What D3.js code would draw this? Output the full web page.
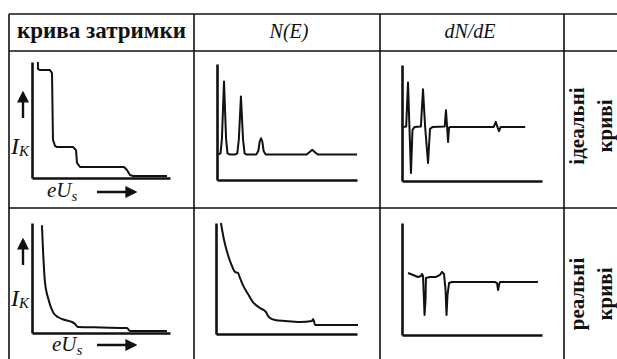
<!DOCTYPE html>
<html><head><meta charset="utf-8">
<script src="https://cdn.jsdelivr.net/npm/d3@7"></script>
<style>
html,body{margin:0;padding:0;background:#fff;}
svg{display:block;}
</style></head>
<body>
<svg id="c" width="617" height="359"></svg>
<script>
// ---------- data ----------
const headers = ["крива затримки", "N(E)", "dN/dE"];
const rowLabels = [["ідеальні", "криві"], ["реальні", "криві"]];
const yAxisLabel = ["I", "K"];
const xAxisLabel = ["eU", "s"];

// retarding (delay) curve, ideal: [energy, current]
const delayIdeal = [[4.3,100],[4.3,94],[5.8,93],[13,93],[14.5,90.5],[15.2,33],[16.7,27.6],[18.1,26.7],[29.7,26.7],[31.9,24],[32.6,13],[34.8,9.5],[66.7,9.5],[68.8,6.9],[71,2.6],[73.2,1.7],[97.8,1.7]];
// retarding curve, real
const delayReal = [[7.2,98],[8,75],[9.4,46],[11.6,32],[15.2,19],[18.8,14.5],[23.9,11.8],[29,10],[31.2,8.2],[33.3,5.5],[50,5],[68.8,4.5],[71,1.8],[97.8,1.8]];
// N(E), ideal
const nIdeal = [[1,22],[2.5,23],[3.5,35],[5,85],[6.5,35],[7.5,23],[9,22],[13,22],[14.5,23],[15.6,35],[17.1,72],[18.6,35],[19.7,23],[21,22],[28,22],[29.5,25],[30.5,33],[31.4,36],[32.4,33],[33.3,25],[34.8,22],[64,22],[66,24],[68,26],[70,24],[72,22],[100,22]];
// N(E), real
const nReal = [[3.5,100],[5.7,84.7],[8.5,71.2],[11.3,61.3],[13.5,55.9],[15.6,55],[17,50.5],[19.1,44.1],[22.7,36],[26.2,28.8],[31.2,23.4],[35.5,19.8],[36.9,16.2],[38.3,14.4],[41.8,12.6],[48.9,11.7],[59.6,10.8],[68.1,11.7],[68.8,13.5],[69.5,11.7],[70.2,8.1],[80.9,8.1],[100.7,8.1]];
// dN/dE, ideal
const dIdeal = [[1,46.6],[3,47],[4.3,85],[5.3,47],[6.4,7],[7.5,44],[9,46.6],[13.5,47],[15,79],[16.5,47],[18.6,15.5],[20,45],[22,46.6],[30.5,47],[31.4,61],[32.2,47],[32.9,33.6],[33.6,46],[34.5,46.6],[65.5,46.6],[67,51],[68,47],[69.3,43],[70.5,46.6],[88,46.6]];
// dN/dE, real
const dReal = [[4.3,55.4],[7.9,53.6],[11.4,51.8],[13.6,52.7],[14.3,54.5],[15,52.7],[15.7,31.3],[16.1,17.9],[16.8,31.3],[17.1,50.9],[20,51.8],[24.3,51.8],[27.1,53.6],[28.6,56.3],[30,54.5],[31.1,40.2],[31.8,17.9],[32.5,35.7],[33.6,46.4],[35.7,47.3],[66.4,47.3],[67.9,46.4],[68.6,40.2],[69.3,44.6],[70,47.3],[97.1,47.3]];

// ---------- layout ----------
const svg = d3.select("#c");
const ink = "#111";
const serif = "'Liberation Serif','Times New Roman',serif";

const colX = [9, 194, 380, 564];
const rowY = [14, 51, 208];

// table lines
const g = svg.append("g").attr("stroke", ink).attr("stroke-width", 1.6);
rowY.forEach(y => g.append("line").attr("x1", colX[0]).attr("x2", 617).attr("y1", y).attr("y2", y));
colX.forEach(x => g.append("line").attr("x1", x).attr("x2", x).attr("y1", rowY[0]).attr("y2", 359));

// headers
svg.append("text").attr("x", (colX[0] + colX[1]) / 2).attr("y", 38)
  .attr("text-anchor", "middle").attr("font-family", serif).attr("font-weight", "bold")
  .attr("font-size", 23).attr("fill", ink).text(headers[0]);
[1, 2].forEach(i => svg.append("text").attr("x", i === 1 ? 289 : 470).attr("y", 38)
  .attr("text-anchor", "middle").attr("font-family", serif).attr("font-style", "italic")
  .attr("font-size", 20).attr("fill", ink).text(headers[i]));

// row labels (rotated)
[[126, 0], [294, 1]].forEach(([cy, r]) => {
  [[577, 0], [605, 1]].forEach(([cx, k]) => {
    svg.append("text").attr("transform", `translate(${cx},${cy}) rotate(-90)`)
      .attr("text-anchor", "middle").attr("dominant-baseline", "central")
      .attr("font-family", serif).attr("font-weight", "bold").attr("font-size", 21)
      .attr("fill", ink).text(rowLabels[r][k]);
  });
});

// panels
const panels = [
  {data: delayIdeal, x0: 32, x1: 170, yb: 178, yt: 62, curve: d3.curveLinear},
  {data: nIdeal,     x0: 217, x1: 357, yb: 180, yt: 64, curve: d3.curveLinear},
  {data: dIdeal,     x0: 402, x1: 542, yb: 181, yt: 65, curve: d3.curveLinear},
  {data: delayReal,  x0: 32, x1: 170, yb: 333, yt: 223, curve: d3.curveMonotoneX},
  {data: nReal,      x0: 216, x1: 357, yb: 334, yt: 223, curve: d3.curveMonotoneX},
  {data: dReal,      x0: 402, x1: 542, yb: 335, yt: 223, curve: d3.curveLinear}
];

panels.forEach(p => {
  const x = d3.scaleLinear().domain([0, 100]).range([p.x0, p.x1]);
  const y = d3.scaleLinear().domain([0, 100]).range([p.yb, p.yt]);
  const pg = svg.append("g");
  const xa = pg.append("g").attr("transform", `translate(0,${p.yb})`)
    .call(d3.axisBottom(x).ticks(0).tickSize(0).tickSizeOuter(0));
  const ya = pg.append("g").attr("transform", `translate(${p.x0},0)`)
    .call(d3.axisLeft(y).ticks(0).tickSize(0).tickSizeOuter(0));
  [xa, ya].forEach(a => { a.selectAll("text").remove(); a.select(".domain").attr("stroke", ink).attr("stroke-width", 2.6); });
  pg.append("path").datum(p.data)
    .attr("d", d3.line().x(d => x(d[0])).y(d => y(d[1])).curve(p.curve))
    .attr("fill", "none").attr("stroke", ink).attr("stroke-width", 2)
    .attr("stroke-linejoin", "round");
});

// axis labels and arrows for the retarding curves
const defs = svg.append("defs");
defs.append("marker").attr("id", "ah").attr("viewBox", "0 0 10 10").attr("refX", 8).attr("refY", 5)
  .attr("markerWidth", 5).attr("markerHeight", 5).attr("orient", "auto")
  .append("path").attr("d", "M0,0 L10,5 L0,10 Z").attr("fill", ink);

[{iy: 154, up: [118, 93], ex: 47, ey: 197, ar: 192}, {iy: 306, up: [265, 240], ex: 52, ey: 351, ar: 345}].forEach(o => {
  svg.append("line").attr("x1", 23).attr("x2", 23).attr("y1", o.up[0]).attr("y2", o.up[1])
    .attr("stroke", ink).attr("stroke-width", 2.4).attr("marker-end", "url(#ah)");
  svg.append("line").attr("x1", 97).attr("x2", 135).attr("y1", o.ar).attr("y2", o.ar)
    .attr("stroke", ink).attr("stroke-width", 2.4).attr("marker-end", "url(#ah)");
  const t = svg.append("text").attr("x", 11).attr("y", o.iy).attr("font-family", serif)
    .attr("font-style", "italic").attr("fill", ink);
  t.append("tspan").attr("font-size", 24).text(yAxisLabel[0]);
  t.append("tspan").attr("font-size", 15).attr("dy", 2).text(yAxisLabel[1]);
  const e = svg.append("text").attr("x", o.ex).attr("y", o.ey).attr("font-family", serif)
    .attr("font-style", "italic").attr("fill", ink);
  e.append("tspan").attr("font-size", 21).text(xAxisLabel[0]);
  e.append("tspan").attr("font-size", 15).attr("dy", 4).text(xAxisLabel[1]);
});
</script>
</body></html>
